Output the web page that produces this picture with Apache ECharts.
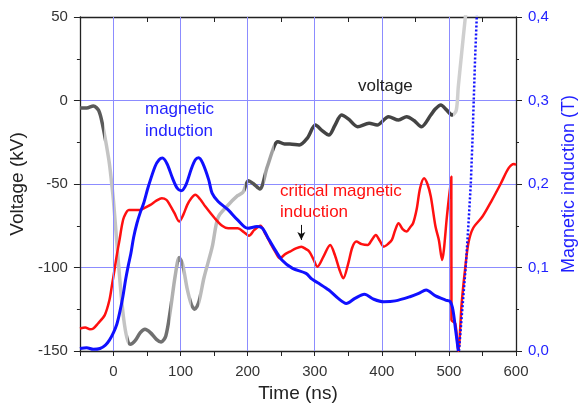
<!DOCTYPE html>
<html>
<head>
<meta charset="utf-8">
<script src="https://cdn.jsdelivr.net/npm/echarts@6/dist/echarts.min.js"></script>
<style>
html,body{margin:0;padding:0;background:#fff;}
#c{width:586px;height:410px;}
</style>
</head>
<body>
<div id="c"></div>
<script>
// ---- data ----
const voltT = [-50,-40,-30,-22,-16,-10,-6,-2,0,5,10,15,20,25,32,40,47,55,64,71,78,85,92,98,103,110,116,121,127,135,147,156,170,185,193,201,209,218,229,240,245,255,263,277,289,301,311,321,330,340,350,364,381,393,410,425,437,448,459,473,480,488,496,505,511,514,519,524,528];
const voltV = [-4.5,-4.5,-3.3,-6,-15,-28,-38,-52,-60,-85,-110,-130,-142,-146,-144,-139,-137,-139,-143,-144.6,-141,-125,-105,-94,-98,-113,-122,-125,-121,-106,-88,-70,-63,-57,-55,-48,-50,-53,-40,-27,-24.7,-26,-26,-26.6,-22.5,-14.7,-18,-20.7,-15,-8.7,-11,-15.7,-13.6,-14.7,-9.7,-11.7,-9.7,-12,-15.7,-8.7,-5,-2.7,-5.5,-8.7,-5.7,8.3,28.4,48,62];

const bT = [-50,-40,-30,-20,-12,-6,0,5,9,14,18,22,26,30,35,40,45,52,62,68,73,80,88,95,101,108,116,122,127,133,142,147,156,171,185,200,214,222,230,238,251,267,287,296,306,321,335,347,360,374,388,403,420,442,455,466,480,495,502,506,510,514];
const bV = [0.003,0.004,0.002,0.003,0.007,0.013,0.022,0.032,0.045,0.065,0.085,0.102,0.117,0.136,0.153,0.166,0.177,0.197,0.221,0.229,0.231,0.224,0.207,0.195,0.192,0.199,0.218,0.229,0.2315,0.225,0.205,0.189,0.179,0.169,0.157,0.147,0.149,0.147,0.136,0.125,0.109,0.099,0.093,0.086,0.081,0.073,0.063,0.057,0.063,0.068,0.062,0.059,0.060,0.065,0.069,0.073,0.066,0.061,0.059,0.049,0.025,0.0];

const bDotT = [515,520,525,529,532.6,535,537,539,541.5,544];
const bDotV = [0.0,0.05,0.1,0.15,0.2,0.25,0.3,0.35,0.4,0.45];

const critT = [-50,-42,-35,-30,-23,-13,-6,-2,1.5,5,9,13,16,23,40,48,55,64,72,79,84,91,98,104,110,116,122,129,137,151,162,171,185,195,202,210,219,226,234,241,248,256,263,272,280,287,292,298,304,313,323,330,337,342.5,350,356,362,370,379,385,391,397,403,409,415,420,425,431,437,442,446.6,452,457,463,468,473,480,485,490,492.5,497,503.6,503.8,509.5,514,519,524,529,536,550,563,577,589,597,600];
const critV = [0.027,0.028,0.026,0.027,0.033,0.043,0.061,0.08,0.097,0.115,0.133,0.152,0.161,0.169,0.169,0.172,0.175,0.180,0.183,0.181,0.175,0.165,0.155,0.163,0.175,0.183,0.187,0.182,0.173,0.159,0.150,0.147,0.147,0.142,0.138,0.145,0.150,0.141,0.129,0.119,0.111,0.116,0.119,0.123,0.125,0.122,0.119,0.110,0.101,0.113,0.127,0.115,0.097,0.087,0.105,0.124,0.131,0.128,0.127,0.133,0.139,0.132,0.125,0.128,0.133,0.145,0.153,0.146,0.143,0.148,0.153,0.170,0.195,0.207,0.200,0.185,0.149,0.133,0.109,0.121,0.161,0.209,0.037,0.033,0.0,0.057,0.097,0.129,0.147,0.161,0.179,0.200,0.219,0.224,0.223];

const xGridLines = [0,100,200,300,400,500];
const arrowFrom = [280, 0.151];
const arrowTo = [280, 0.133];

const zip = (a,b) => a.map((v,i)=>[v,b[i]]);

const chart = echarts.init(document.getElementById('c'), null, {renderer:'canvas'});
const FONT = 'Liberation Sans, Arial, sans-serif';
const BLUE = '#1f1fff';
const GRIDC = '#8c8cff';
const AX = {show:true,onZero:false,lineStyle:{color:'#222',width:1.3}};

chart.setOption({
  animation:false,
  backgroundColor:'#fff',
  textStyle:{fontFamily:FONT},
  grid:{left:74,right:62,top:17,bottom:59,containLabel:false},
  xAxis:[{
    type:'value', min:-50, max:600, interval:50, position:'bottom',
    name:'Time (ns)', nameLocation:'middle', nameGap:33,
    nameTextStyle:{fontSize:19,color:'#222',fontFamily:FONT},
    axisLine:AX,
    axisTick:{show:true,length:5,lineStyle:{color:'#222'}},
    axisLabel:{fontSize:15,color:'#333',margin:13,fontFamily:FONT,
      formatter:v=> (v%100===0 ? String(v) : '')},
    splitLine:{show:false}
  },{
    type:'value', min:-50, max:600, interval:50, position:'top',
    axisLine:AX,
    axisTick:{show:true,inside:true,length:5,lineStyle:{color:'#222'}},
    axisLabel:{show:false}, splitLine:{show:false}
  }],
  yAxis:[{
    type:'value', min:-150, max:50, interval:50, position:'left',
    name:'Voltage (kV)', nameLocation:'middle', nameGap:40,
    nameTextStyle:{fontSize:19,color:'#222',fontFamily:FONT},
    axisLine:AX,
    axisTick:{show:true,length:6,lineStyle:{color:'#222'}},
    minorTick:{show:true,splitNumber:2,length:3,lineStyle:{color:'#222'}},
    axisLabel:{fontSize:15,color:'#333',margin:12,fontFamily:FONT},
    splitLine:{show:true,lineStyle:{color:GRIDC,width:1}}
  },{
    type:'value', min:0, max:0.4, interval:0.1, position:'right',
    name:'Magnetic induction (T)', nameLocation:'middle', nameGap:44,
    nameTextStyle:{fontSize:18,color:BLUE,fontFamily:FONT},
    axisLine:AX,
    axisTick:{show:true,length:6,lineStyle:{color:'#222'}},
    minorTick:{show:true,splitNumber:2,length:3,lineStyle:{color:'#222'}},
    axisLabel:{fontSize:15,color:BLUE,margin:12,fontFamily:FONT,
      formatter:v=>v.toFixed(1).replace('.',',')},
    splitLine:{show:false}
  }],
  visualMap:[{
    type:'piecewise', show:false, seriesIndex:1, dimension:0,
    pieces:[
      {lt:-14,color:'#5a5a5a'},
      {gte:-14,lt:22,color:'#c4c4c4'},
      {gte:22,lt:84,color:'#707070'},
      {gte:84,lt:96,color:'#b0b0b0'},
      {gte:96,lt:104,color:'#8a8a8a'},
      {gte:104,lt:116,color:'#bdbdbd'},
      {gte:116,lt:128,color:'#777'},
      {gte:128,lt:196,color:'#bbbbbb'},
      {gte:196,lt:225,color:'#555'},
      {gte:225,lt:240,color:'#a0a0a0'},
      {gte:240,lt:506,color:'#444'},
      {gte:506,color:'#cfcfcf'}
    ]
  }],
  series:[
    {
      type:'line', data:[], silent:true, z:1,
      markLine:{silent:true,symbol:['none','none'],label:{show:false},
        lineStyle:{color:GRIDC,width:1,type:'solid'},
        data:xGridLines.map(v=>({xAxis:v}))}
    },
    {
      name:'voltage', type:'line', xAxisIndex:0, yAxisIndex:0,
      data:zip(voltT,voltV), showSymbol:false, smooth:0.3, z:3,
      lineStyle:{width:3.5}
    },
    {
      name:'critical', type:'line', xAxisIndex:0, yAxisIndex:1,
      data:zip(critT,critV), showSymbol:false, smooth:0.3, z:4,
      lineStyle:{width:2.5,color:'#ff1010'},
      markLine:{silent:true,symbol:['none','arrow'],symbolSize:[6,8],label:{show:false},
        lineStyle:{color:'#111',width:1,type:'solid'},
        data:[[{coord:arrowFrom},{coord:arrowTo}]]}
    },
    {
      name:'B', type:'line', xAxisIndex:0, yAxisIndex:1,
      data:zip(bT,bV), showSymbol:false, smooth:0.3, z:5,
      lineStyle:{width:3,color:'#1010ff'}
    },
    {
      name:'Bdot', type:'line', xAxisIndex:0, yAxisIndex:1,
      data:zip(bDotT,bDotV), showSymbol:false, z:5,
      lineStyle:{width:2.5,color:'#1010ff',type:[2,2]}
    }
  ],
  graphic:[
    {type:'text',left:358,top:78,z:10,style:{text:'voltage',fontSize:17,fill:'#222',fontFamily:FONT}},
    {type:'text',left:145,top:98,z:10,style:{text:'magnetic\ninduction',fontSize:17,lineHeight:22,fill:BLUE,fontFamily:FONT}},
    {type:'text',left:280,top:181,z:10,style:{text:'critical magnetic\ninduction',fontSize:17,lineHeight:21,fill:'#ff1010',fontFamily:FONT}}
  ]
});
</script>
</body>
</html>
